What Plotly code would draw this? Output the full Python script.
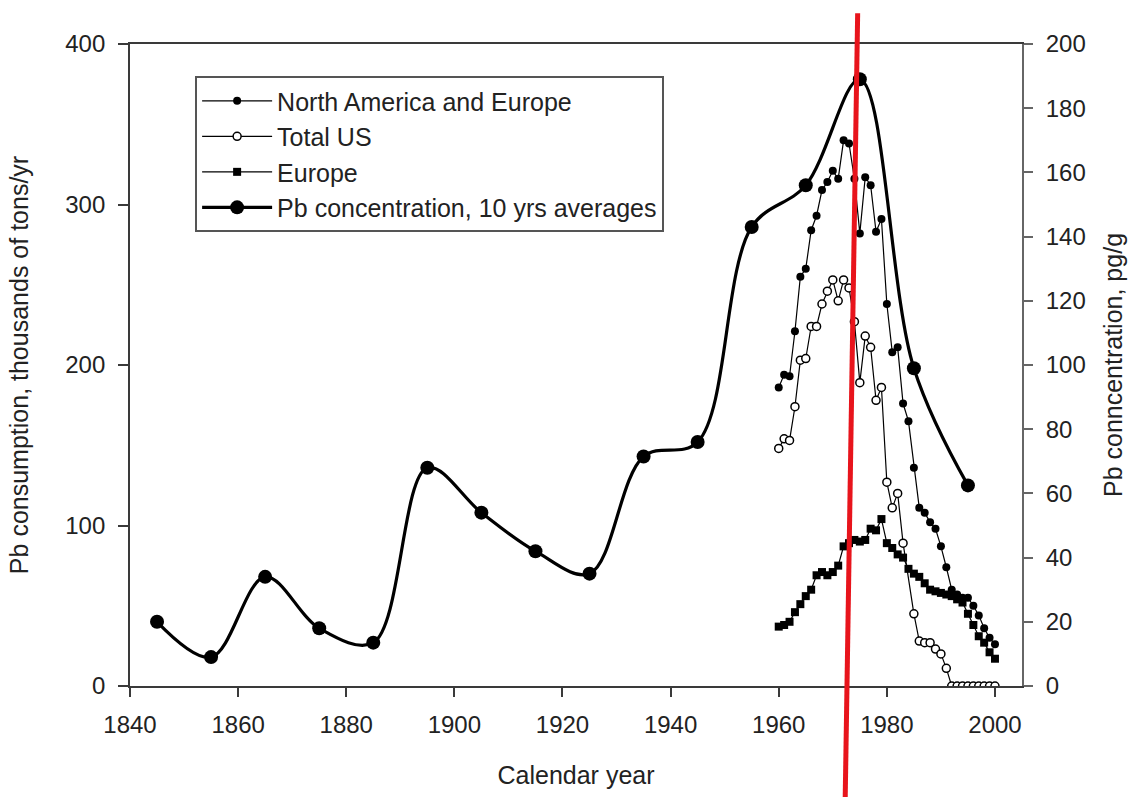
import plotly.graph_objects as go

# ---------------- data ----------------
years_annual = list(range(1960, 2001))

na_europe = [186, 194, 193, 221, 255, 260, 284, 293, 309, 314,
             321, 316, 340, 338, 316, 282, 317, 312, 283, 291,
             238, 208, 211, 176, 165, 136, 111, 108, 102, 98,
             87, 74, 60, 57, 55, 55, 50, 44, 36, 30, 26]

us_years = [1960, 1961, 1962, 1963, 1964, 1965, 1966, 1967, 1968, 1969,
            1970, 1971, 1972, 1973, 1974, 1975, 1976, 1977, 1978, 1979,
            1980, 1981, 1982, 1983, 1985, 1986, 1987, 1988, 1989, 1990,
            1991, 1992, 1993, 1994, 1995, 1996, 1997, 1998, 1999, 2000]
total_us = [148, 154, 153, 174, 203, 204, 224, 224, 238, 246,
            253, 240, 253, 248, 227, 189, 218, 211, 178, 186,
            127, 111, 120, 89, 45, 28, 27, 27, 23, 20,
            11, 0, 0, 0, 0, 0, 0, 0, 0, 0]

europe = [37, 38, 40, 46, 51, 56, 60, 69, 71, 69,
          71, 75, 87, 89, 91, 90, 91, 98, 97, 104,
          89, 86, 82, 80, 73, 70, 68, 64, 60, 59,
          58, 57, 56, 54, 52, 45, 38, 31, 27, 21, 17]

pb_years = [1845, 1855, 1865, 1875, 1885, 1895, 1905, 1915,
            1925, 1935, 1945, 1955, 1965, 1975, 1985, 1995]
pb_conc = [20, 9, 34, 18, 13.5, 68, 54, 42,
           35, 71.5, 76, 143, 156, 189, 99, 62.5]

x_ticks = list(range(1840, 2001, 20))
y_left_ticks = list(range(0, 401, 100))
y_right_ticks = list(range(0, 201, 20))
red_line_years = (1972.3, 1974.6)   # hand-drawn marker line (bottom, top)

# ---------------- figure ----------------
FONT = "Liberation Sans, Arial, Helvetica, sans-serif"
INK = "#222222"
AX = "#3a3a3a"
TICK_SIZE = 24
TITLE_SIZE = 25

fig = go.Figure()

fig.add_trace(go.Scatter(
    x=years_annual, y=na_europe, name="North America and Europe",
    mode="lines+markers",
    line=dict(color="black", width=1.2),
    marker=dict(symbol="circle", size=8, color="black"),
    yaxis="y"))

fig.add_trace(go.Scatter(
    x=us_years, y=total_us, name="Total US",
    mode="lines+markers",
    line=dict(color="black", width=1.2),
    marker=dict(symbol="circle", size=8, color="white",
                line=dict(color="black", width=1.5)),
    yaxis="y"))

fig.add_trace(go.Scatter(
    x=years_annual, y=europe, name="Europe",
    mode="lines+markers",
    line=dict(color="black", width=1.2),
    marker=dict(symbol="square", size=8, color="black"),
    yaxis="y"))

fig.add_trace(go.Scatter(
    x=pb_years, y=pb_conc, name="Pb concentration, 10 yrs averages",
    mode="lines+markers",
    line=dict(color="black", width=3.2, shape="spline", smoothing=1.0),
    marker=dict(symbol="circle", size=14, color="black"),
    yaxis="y2"))

fig.add_shape(type="line", xref="x", yref="paper",
              x0=red_line_years[0], x1=red_line_years[1],
              y0=-0.173, y1=1.048,
              line=dict(color="#e8141c", width=5), layer="above")

fig.update_layout(
    width=1130, height=797,
    margin=dict(l=130, r=108, t=44, b=111, autoexpand=False),
    paper_bgcolor="white", plot_bgcolor="white",
    font=dict(family=FONT, size=TICK_SIZE, color=INK),
    showlegend=True,
    legend=dict(x=0.073, y=0.95, xanchor="left", yanchor="top",
                bgcolor="white", bordercolor="#555555", borderwidth=2,
                font=dict(family=FONT, size=TITLE_SIZE, color=INK),
                itemwidth=70, tracegroupgap=0),
    xaxis=dict(range=[1840, 2005], tickvals=x_ticks,
               ticks="outside", ticklen=9, tickwidth=1.5, tickcolor=AX,
               showline=True, linecolor=AX, linewidth=1.8, mirror=True,
               showgrid=False, zeroline=False, ticklabelstandoff=7,
               title=dict(text="Calendar year", standoff=30,
                          font=dict(size=TITLE_SIZE))),
    yaxis=dict(range=[0, 400], tickvals=y_left_ticks,
               ticks="outside", ticklen=10, tickwidth=1.5, tickcolor=AX,
               showline=True, linecolor=AX, linewidth=1.8,
               showgrid=False, zeroline=False, ticklabelstandoff=8,
               title=dict(text="Pb consumption, thousands of tons/yr",
                          standoff=30, font=dict(size=TITLE_SIZE))),
    yaxis2=dict(range=[0, 200], tickvals=y_right_ticks,
                overlaying="y", side="right",
                ticks="outside", ticklen=9, tickwidth=1.5, tickcolor="#666666",
                showline=True, linecolor="#666666", linewidth=1.8,
                showgrid=False, zeroline=False, ticklabelstandoff=8,
                title=dict(text="Pb conncentration, pg/g",
                           standoff=20, font=dict(size=TITLE_SIZE))),
)

fig.write_html("out.html")
